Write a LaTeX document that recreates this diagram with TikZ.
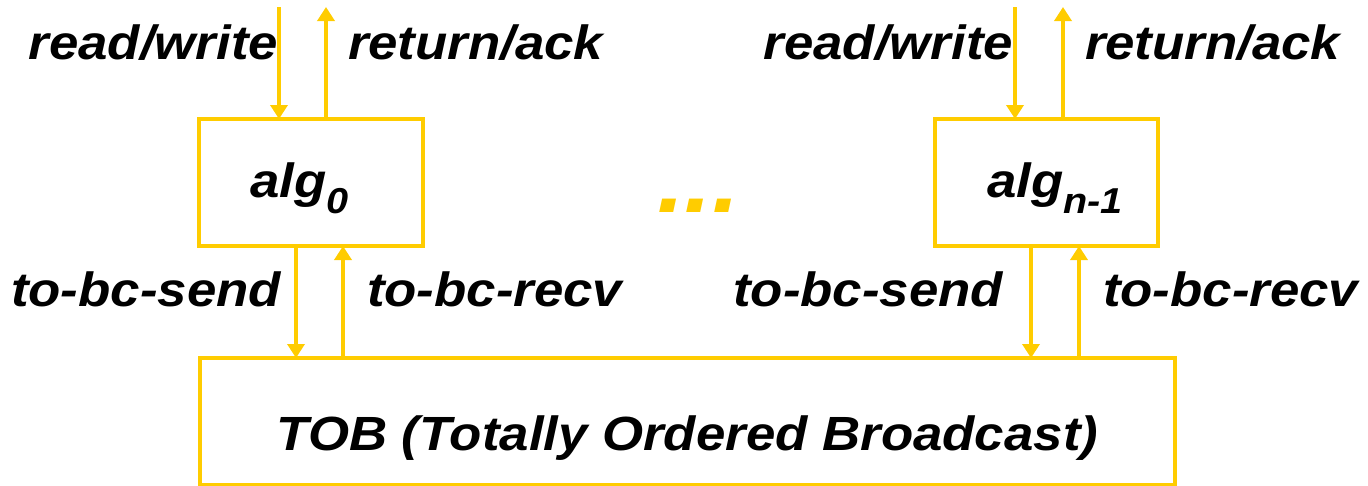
\documentclass[tikz,border=0pt]{standalone}
\usepackage{fontspec}
\setmainfont{Liberation Sans}[FakeStretch=1.1]
\usetikzlibrary{arrows.meta}
\definecolor{gold}{RGB}{255,204,0}
\begin{document}
\begin{tikzpicture}[x=1pt,y=-1pt,
  box/.style={draw=gold,line width=4.5pt,inner sep=0pt,outer sep=0pt,rectangle},
  flow/.style={draw=gold,line width=4.5pt,-{Triangle[width=17pt,length=14pt]}},
  lbl/.style={inner sep=0pt,outer sep=0pt,font=\fontsize{48}{56}\selectfont\bfseries\itshape}]
\useasboundingbox (0,0) rectangle (1368,485);

% processes and the broadcast layer
\node[box,minimum width=224pt,minimum height=127pt] (alg0) at (311,182.5) {};
\node[box,minimum width=223pt,minimum height=127pt] (alg1) at (1046.5,182.5) {};
\node[box,minimum width=975pt,minimum height=127.5pt] (tob) at (687.5,421.75) {};

\node[lbl,anchor=base west] (t0) at (250,197) {alg\raisebox{-16pt}{\fontsize{36}{36}\selectfont 0}};
\node[lbl,anchor=base west] (t1) at (987,197) {alg\raisebox{-16pt}{\fontsize{36}{36}\selectfont n-1}};
\node[lbl,anchor=base] (tt) at (687.5,450) {TOB (Totally Ordered Broadcast)};
\node[lbl,anchor=base west,text=gold,font=\fontsize{90}{90}\selectfont\bfseries\itshape] (dots) at (657,212) {...};

% client interface
\coordinate (in0) at (279,7);
\coordinate (out0) at (326,7);
\coordinate (in1) at (1015,7);
\coordinate (out1) at (1063,7);
\draw[flow] (in0) -- (in0 |- alg0.north);
\draw[flow] (out0 |- alg0.north) -- (out0);
\draw[flow] (in1) -- (in1 |- alg1.north);
\draw[flow] (out1 |- alg1.north) -- (out1);

% broadcast interface
\coordinate (s0) at (296,0);
\coordinate (r0) at (343,0);
\coordinate (s1) at (1031,0);
\coordinate (r1) at (1079,0);
\draw[flow] (s0 |- alg0.south) -- (s0 |- tob.north);
\draw[flow] (r0 |- tob.north) -- (r0 |- alg0.south);
\draw[flow] (s1 |- alg1.south) -- (s1 |- tob.north);
\draw[flow] (r1 |- tob.north) -- (r1 |- alg1.south);

% interface labels
\node[lbl,anchor=base east] (rw0) at (278,59) {read/write};
\node[lbl,anchor=base west] (ra0) at (348,59) {return/ack};
\node[lbl,anchor=base east] (rw1) at (1013,59) {read/write};
\node[lbl,anchor=base west] (ra1) at (1085,59) {return/ack};
\node[lbl,anchor=base east] (sd0) at (281,306) {to-bc-send};
\node[lbl,anchor=base west] (rc0) at (367,306) {to-bc-recv};
\node[lbl,anchor=base east] (sd1) at (1003,306) {to-bc-send};
\node[lbl,anchor=base west] (rc1) at (1103,306) {to-bc-recv};
\end{tikzpicture}
\end{document}
